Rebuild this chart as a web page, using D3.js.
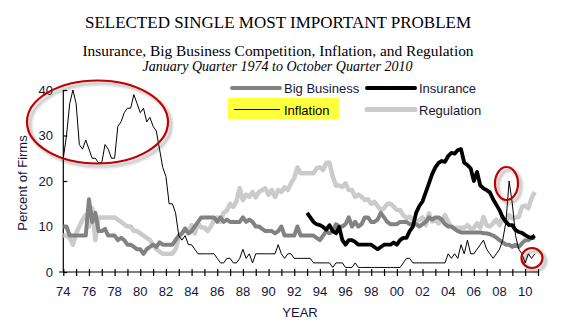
<!DOCTYPE html>
<html>
<head>
<meta charset="utf-8">
<script src="https://cdn.jsdelivr.net/npm/d3@7"></script>
<style>
  body { margin: 0; background: #fff; }
  text { font-family: "Liberation Sans", Arial, sans-serif; }
  .serif { font-family: "Liberation Serif", "Times New Roman", serif; }
</style>
</head>
<body>
<div class="chart"></div>
<script>
// quarterly values, percent of firms, January quarter 1974 .. October quarter 2010
let inflation = [
  25, 30, 37, 40,   37, 28, 27, 29,   27, 25, 25, 24,   24, 28, 27, 25,
  25, 32, 33, 35,   36, 36, 39, 37,   35, 36, 33, 34,   32, 31, 27, 23,
  21, 15, 15, 13,   8, 7, 8, 6,       6, 5, 4, 4,       4, 4, 4, 4,
  3, 2, 2, 3,       3, 2, 2, 3,       5, 3, 4, 2,       4, 4, 4, 4,
  4, 4, 4, 6,       4, 3, 4, 4,       3, 3, 3, 3,       3, 3, 2, 2,
  2, 2, 2, 2,       1, 2, 2, 2,       1, 1, 1, 2,       1, 1, 1, 1,
  1, 1, 1, 1,       1, 1, 1, 1,       1, 1, 2, 3,       3, 2, 2, 2,
  2, 2, 2, 2,       2, 2, 2, 2,       4, 3, 4, 3,       6, 4, 7, 4,
  4, 5, 6, 7,       5, 4, 3, 4,       5, 7, 11, 20,     15, 8, 5, 4,
  2, 4, 3, 4
];
let bigBusiness = [
  10, 10, 8, 8,     8, 8, 8, 8,       16, 11, 13, 9,    9, 9.5, 8, 8,
  8, 7, 7.5, 7,     6, 6, 5.5, 5,     5, 4, 5, 5.5,     6, 5.5, 6.5, 6,
  6, 6, 6, 7,       8, 8.5, 9.5, 8.5, 9, 10, 11, 12,    12, 12, 12, 12,
  11, 12, 11, 11.5, 11, 11, 11, 11,   12, 11, 11.5, 11, 10, 10, 9.5, 9,
  9, 9, 8.5, 9,     10, 8, 8, 8,      8, 10, 8, 8,      8, 8, 8, 7.5,
  7, 8, 9, 8.5,     9, 10.5, 10, 10,  10.5, 12, 10, 11, 10, 10.5, 12, 12,
  11, 11, 11.5, 13, 12, 11, 10.5, 10.5, 10.5, 11, 11, 11, 10.5, 10.5, 10.5, 10,
  10.5, 11, 12, 11.5, 12, 12, 11.5, 10.5, 10, 10, 9.5, 9, 8.7, 8.7, 8.7, 8.7,
  8.7, 8.7, 8.7, 8.5, 8.5, 8.3, 8, 7.6, 7, 6.5, 6, 6,   5.5, 6, 5.5, 6.3,
  7, 7, 7.5, 7.5
];
let regulation = [
  8, 8, 7.5, 6,     8.5, 10, 11.5, 12.5, 10, 14, 7, 12,  12, 12, 12, 12,
  12, 11.5, 11, 10.5, 10, 10, 9, 9,  8.5, 8, 7.5, 7,   6, 5, 4.5, 4,
  4, 4, 4, 5,       7.5, 8.5, 9.6, 8.5, 10.3, 8.5, 10.7, 9.8, 9.8, 9, 10, 11.4,
  12, 11, 13, 13.5, 15, 14.3, 15.6, 18.4, 15.8, 17, 16.5, 17.6, 16.4, 17.6, 18, 18.4,
  17, 18, 16.5, 18, 17.6, 18.6, 18, 19.5, 20.6, 23, 21.7, 21.7, 21.7, 21.7, 21.7, 22.8,
  23, 22.4, 24, 24, 21, 19, 19, 18.7, 19.5, 18, 18, 16.5, 17, 16.5, 15.8, 16,
  15, 15.4, 14.5, 13.6, 14, 15, 15, 14.4, 13.6, 13.6, 12.5, 11.8, 12.2, 11.4, 11, 11.4,
  12, 10.3, 12.9, 11.1, 11.4, 10.7, 11.4, 12.5, 11, 9.9, 9.7, 9.7, 9.7, 9.7, 10.3, 9.6,
  9.7, 10.7, 9.7, 12.1, 10.3, 10, 10.7, 11.5, 10.3, 12.1, 11, 12.5, 11.8, 12, 12.1, 14.3,
  14.6, 14, 16.2, 17.6
];
// insurance series begins January quarter 1993
let insuranceStart = 1993;
let insurance = [
  13, 12, 11, 10.5,  10.3, 9.9, 9.3, 10.3, 9, 8.5, 9.9, 7,  6, 7, 7, 6.6,
  6, 6, 6, 6,        6, 5.5, 5, 5.5,    6, 6, 6, 6.5,      6, 7, 7.5, 7.5,
  9, 10, 13, 14.5,   15.5, 17.5, 19.5, 21.5, 23, 24, 24.4, 24.2, 25.5, 26.2, 26, 26.8,
  27, 24, 23.5, 22.8, 20, 22, 19, 18.4, 18, 17.5, 16, 14.8, 13.6, 12, 11, 10.3,
  10.3, 9.2, 8.8, 8.6, 8.1, 7.7, 7.5, 8
];
let yTicks = [0, 10, 20, 30, 40];
let xLabels = ["74","76","78","80","82","84","86","88","90","92","94","96","98","00","02","04","06","08","10"];
let legendNames = ["Big Business", "Insurance", "Inflation", "Regulation"];

let W = 572, H = 329;
let svg = d3.select(".chart").append("svg")
  .attr("width", W).attr("height", H);

let defs = svg.append("defs");
let shadow = defs.append("filter").attr("id", "shadow")
  .attr("x", "-20%").attr("y", "-20%").attr("width", "150%").attr("height", "150%");
shadow.append("feDropShadow")
  .attr("dx", 3).attr("dy", 3).attr("stdDeviation", 1.6)
  .attr("flood-color", "#000").attr("flood-opacity", 0.35);

let x = d3.scaleLinear().domain([1974, 2011]).range([63.3, 538]);
let y = d3.scaleLinear().domain([0, 40]).range([272, 90]);

function toPoints(values, start) {
  return values.map(function(v, i) { return { t: start + i / 4, v: v }; });
}
let line = d3.line().x(d => x(d.t)).y(d => y(d.v));

// titles
svg.append("text").attr("class", "serif")
  .attr("x", 278).attr("y", 27.5).attr("text-anchor", "middle")
  .style("font-size", "17px")
  .text("SELECTED SINGLE MOST IMPORTANT PROBLEM");
svg.append("text").attr("class", "serif")
  .attr("x", 278).attr("y", 55.5).attr("text-anchor", "middle")
  .style("font-size", "15.4px")
  .text("Insurance, Big Business Competition, Inflation, and Regulation");
svg.append("text").attr("class", "serif")
  .attr("x", 277.5).attr("y", 71).attr("text-anchor", "middle")
  .style("font-size", "14px").style("font-style", "italic")
  .text("January Quarter 1974 to October Quarter 2010");

let axisColor = "#000", labelColor = "#15153a";

// y axis
let yAxis = svg.append("g").attr("transform", "translate(" + x(1974) + ",0)")
  .call(d3.axisRight(y).tickValues(yTicks).tickSize(4).tickFormat(""));
yAxis.select(".domain").attr("d", "M0," + y(40) + "V" + y(0));
yAxis.selectAll("line,path").attr("stroke", axisColor).attr("stroke-width", 1.2);
svg.append("g").selectAll("text").data(yTicks).join("text")
  .attr("x", 53).attr("y", d => y(d) + 4.5)
  .attr("text-anchor", "end").attr("fill", labelColor)
  .style("font-size", "13px")
  .text(d => d);

// x axis with crossing ticks every year
let xAxis = svg.append("g").attr("transform", "translate(0," + y(0) + ")")
  .call(d3.axisBottom(x).tickValues(d3.range(1974, 2012)).tickSize(0).tickFormat(""));
xAxis.select(".domain").attr("d", "M59,0H" + x(2011));
xAxis.selectAll(".tick line").attr("y1", -3).attr("y2", 4);
xAxis.selectAll("line,path").attr("stroke", axisColor).attr("stroke-width", 1.2);
svg.append("g").selectAll("text").data(xLabels).join("text")
  .attr("x", (d, i) => x(1974 + i * 2))
  .attr("y", 295.5)
  .attr("text-anchor", "middle").attr("fill", labelColor)
  .style("font-size", "13px")
  .text(d => d);

svg.append("text")
  .attr("x", 300).attr("y", 317).attr("text-anchor", "middle")
  .attr("fill", labelColor).style("font-size", "13px")
  .text("YEAR");
svg.append("text")
  .attr("transform", "translate(27,183) rotate(-90)")
  .attr("text-anchor", "middle").attr("fill", labelColor)
  .style("font-size", "13px")
  .text("Percent of Firms");

// series
svg.append("path").datum(toPoints(regulation, 1974))
  .attr("d", line).attr("fill", "none")
  .attr("stroke", "#cbcbcb").attr("stroke-width", 4.5).attr("stroke-linejoin", "round");
svg.append("path").datum(toPoints(bigBusiness, 1974))
  .attr("d", line).attr("fill", "none")
  .attr("stroke", "#828282").attr("stroke-width", 4).attr("stroke-linejoin", "round");
svg.append("path").datum(toPoints(insurance, insuranceStart))
  .attr("d", line).attr("fill", "none")
  .attr("stroke", "#000").attr("stroke-width", 3.8).attr("stroke-linejoin", "round");
svg.append("path").datum(toPoints(inflation, 1974))
  .attr("d", line).attr("fill", "none")
  .attr("stroke", "#000").attr("stroke-width", 1);

// legend
let legend = svg.append("g");
legend.append("rect").attr("x", 228).attr("y", 98).attr("width", 111).attr("height", 21)
  .attr("fill", "#ffff3c");
let legendItems = [
  { name: legendNames[0], x1: 232, y: 88, color: "#828282", w: 4 },
  { name: legendNames[1], x1: 367, y: 88, color: "#000", w: 4 },
  { name: legendNames[2], x1: 234, y: 109.5, color: "#000", w: 1 },
  { name: legendNames[3], x1: 367, y: 109.5, color: "#cbcbcb", w: 5 }
];
legendItems.forEach(function(d) {
  legend.append("line")
    .attr("x1", d.x1).attr("x2", d.x1 === 234 ? 280 : d.x1 + 48)
    .attr("y1", d.y).attr("y2", d.y)
    .attr("stroke", d.color).attr("stroke-width", d.w)
    .attr("stroke-linecap", d.w > 1 ? "round" : "butt");
  legend.append("text")
    .attr("x", d.x1 < 300 ? 284 : 419).attr("y", d.y + 5)
    .attr("fill", d.x1 === 234 ? "#000" : labelColor)
    .style("font-size", "13px")
    .text(d.name);
});

// red annotation ellipses
let marks = svg.append("g").attr("fill", "none").attr("stroke", "#c00000")
  .attr("stroke-width", 2.2).attr("filter", "url(#shadow)");
marks.append("ellipse").attr("cx", 97.5).attr("cy", 122).attr("rx", 70.5).attr("ry", 41.5);
marks.append("ellipse").attr("cx", 506.5).attr("cy", 183.5).attr("rx", 11.5).attr("ry", 16.5);
marks.append("ellipse").attr("cx", 532).attr("cy", 258).attr("rx", 10.5).attr("ry", 10);
</script>
</body>
</html>
